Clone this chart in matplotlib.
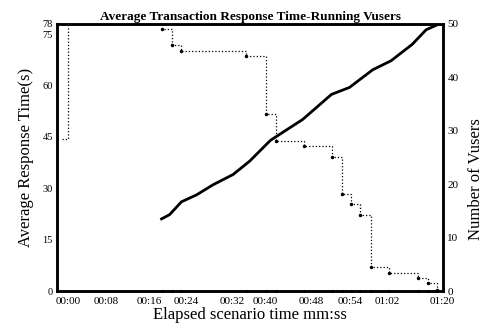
import matplotlib
matplotlib.use("Agg")
import matplotlib.pyplot as plt
import numpy as np

plt.rcParams['font.family'] = ['Liberation Serif', 'DejaVu Serif']

# response time (s), step series
rt_time = [-1.3, 0.0, 19.8, 21.9, 24.0, 37.7, 41.9, 43.9, 49.9, 55.8, 57.95,
           59.85, 61.75, 64.1, 67.9, 74.05, 76.0, 78.1]
rt_value = [44.3, 78.0, 76.5, 71.8, 70.0, 68.7, 51.8, 43.8, 42.3, 39.2, 28.4,
            25.4, 22.3, 7.0, 5.4, 3.7, 2.3, 0.3]

# running vusers
vu_time = [19.8, 21.5, 24.0, 27.2, 30.7, 34.9, 38.4, 42.8, 46.8, 49.6, 55.7,
           59.5, 64.4, 68.3, 72.8, 75.7, 78.5]
vu_value = [13.5, 14.3, 16.7, 18.0, 19.9, 21.8, 24.3, 28.2, 30.5, 32.1, 36.8,
            38.1, 41.4, 43.1, 46.2, 48.9, 50.0]

# x tick labels and where they sit on the time axis
xtick_labels = ['00:00', '00:08', '00:16', '00:24', '00:32', '00:40',
                '00:48', '00:54', '01:02', '01:20']
xtick_pos = [0, 8.2, 17.3, 25.1, 34.8, 41.8, 51.5, 59.7, 67.5, 79.0]

left_ticks = [0, 15, 30, 45, 60, 75, 78]
right_ticks = [0, 10, 20, 30, 40, 50]

fig = plt.figure(figsize=(4.87, 3.27), dpi=100)
ax = fig.add_axes([0.117, 0.110, 0.793, 0.817])
ax2 = ax.twinx()

# dotted step line for the response time, dots on each sample
ax.step(rt_time, rt_value, where='post', color='black', linestyle=':',
        linewidth=0.9)
ax.plot(rt_time[2:], rt_value[2:], '.', color='black', markersize=3)
ax.plot(rt_time[2:], np.zeros(len(rt_time) - 2), '.', color='black',
        markersize=2.5, clip_on=False)

ax2.plot(vu_time, vu_value, color='black', linewidth=2)

ax.set_xlim(-2.3, 79.3)
ax.set_ylim(0, 78)
ax2.set_ylim(0, 50)

ax.set_xticks(xtick_pos)
ax.set_xticklabels(xtick_labels)
ax.set_yticks(left_ticks)
ax2.set_yticks(right_ticks)

for a in (ax, ax2):
    a.tick_params(length=0, labelsize=8, pad=3)
    for s in a.spines.values():
        s.set_linewidth(1.8)
ax.tick_params(axis='y', labelsize=7.5)
ax.tick_params(axis='x', pad=4)

ax.set_title('Average Transaction Response Time-Running Vusers',
             fontsize=9.5, fontweight='bold', pad=3)
ax.set_xlabel('Elapsed scenario time mm:ss', fontsize=12, labelpad=1)
ax.set_ylabel('Average Response Time(s)', fontsize=12, labelpad=6)
ax2.set_ylabel('Number of Vusers', fontsize=12)
ax2.yaxis.set_label_coords(1.065, 0.42)

fig.savefig('out.png', dpi=100)
